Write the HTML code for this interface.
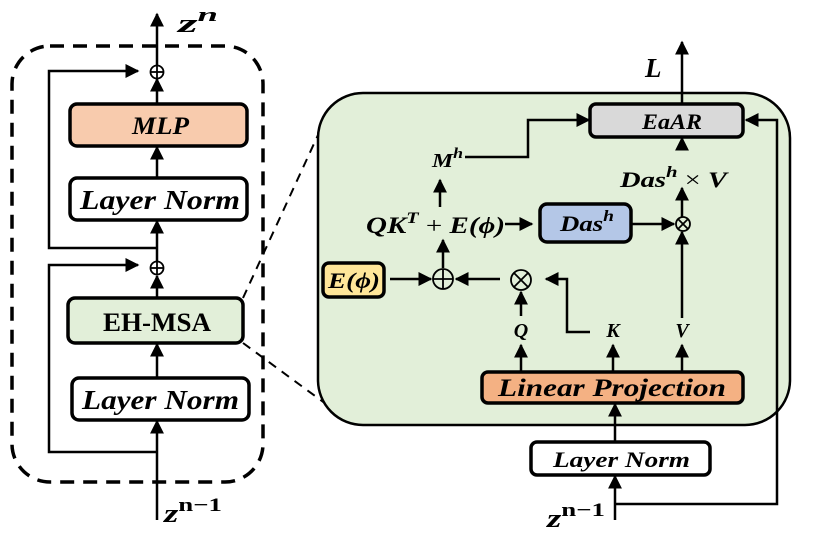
<!DOCTYPE html>
<html><head><meta charset="utf-8"><style>
html,body{margin:0;padding:0;background:#fff;}
svg{display:block;}
text{font-family:"Liberation Serif",serif;font-weight:bold;font-style:italic;fill:#000;}
</style></head><body>
<svg width="814" height="536" viewBox="0 0 814 536" xmlns="http://www.w3.org/2000/svg">
<defs>
<marker id="b" viewBox="0 0 10 10" refX="9" refY="5" markerWidth="14" markerHeight="14" orient="auto" markerUnits="userSpaceOnUse"><path d="M0,0L10,5L0,10z"/></marker>
</defs>
<g stroke="#000" stroke-width="2.5" fill="none">
<rect x="12" y="46" width="251" height="436" rx="38" stroke-width="3.5" stroke-dasharray="14,9"/>
<line x1="243" y1="298" x2="318" y2="135" stroke-width="2" stroke-dasharray="9,7"/>
<line x1="243" y1="343" x2="345" y2="418" stroke-width="2" stroke-dasharray="9,7"/>
</g>
<rect x="318" y="93" width="472" height="332" rx="45" fill="#e2efd9" stroke="#000" stroke-width="2.5"/>
<g stroke="#000" stroke-width="2.5" fill="none">
<line x1="157" y1="520" x2="157" y2="421" marker-end="url(#b)"/>
<line x1="157" y1="378" x2="157" y2="344" marker-end="url(#b)"/>
<line x1="157" y1="298" x2="157" y2="276" marker-end="url(#b)"/>
<line x1="157" y1="262" x2="157" y2="221" marker-end="url(#b)"/>
<line x1="157" y1="178" x2="157" y2="147" marker-end="url(#b)"/>
<line x1="157" y1="104" x2="157" y2="79" marker-end="url(#b)"/>
<line x1="157" y1="66" x2="157" y2="14" marker-end="url(#b)"/>
<polyline points="157,452 49,452 49,265 138,265" marker-end="url(#b)"/>
<polyline points="157,248 49,248 49,71 138,71" marker-end="url(#b)"/>
<circle cx="157" cy="72" r="6.5" fill="#fff" stroke-width="1.8"/>
<line x1="150.5" y1="72" x2="163.5" y2="72" stroke-width="1.8"/><line x1="157" y1="65.5" x2="157" y2="78.5" stroke-width="1.8"/>
<circle cx="157" cy="268" r="6.5" fill="#fff" stroke-width="1.8"/>
<line x1="150.5" y1="268" x2="163.5" y2="268" stroke-width="1.8"/><line x1="157" y1="261.5" x2="157" y2="274.5" stroke-width="1.8"/>
</g>
<g stroke="#000" stroke-width="3.5">
<rect x="70" y="104" width="177" height="42" rx="7" fill="#f8cbad"/>
<rect x="70" y="178" width="177" height="42" rx="7" fill="#fff"/>
<rect x="68" y="298" width="175" height="45" rx="7" fill="#e2efd9"/>
<rect x="72" y="378" width="177" height="42" rx="7" fill="#fff"/>
</g>
<text x="132" y="134" font-size="25" textLength="57" lengthAdjust="spacingAndGlyphs">MLP</text>
<text x="80" y="209" font-size="27" textLength="160" lengthAdjust="spacingAndGlyphs">Layer Norm</text>
<text x="103" y="331" font-size="26" textLength="108" lengthAdjust="spacingAndGlyphs" style="font-style:normal">EH-MSA</text>
<text x="82" y="409" font-size="27" textLength="157" lengthAdjust="spacingAndGlyphs">Layer Norm</text>
<text x="178" y="32" font-size="26" textLength="40" lengthAdjust="spacingAndGlyphs">z<tspan font-size="19" dy="-11">n</tspan></text>
<text x="164" y="522" font-size="26" textLength="58" lengthAdjust="spacingAndGlyphs">z<tspan font-size="19" dy="-11" style="font-style:normal">n−1</tspan></text>

<g stroke="#000" stroke-width="2.5" fill="none">
<line x1="682" y1="104" x2="682" y2="42" marker-end="url(#b)"/>
<line x1="615" y1="520" x2="615" y2="476" marker-end="url(#b)"/>
<line x1="615" y1="442" x2="615" y2="404" marker-end="url(#b)"/>
<polyline points="615,504 777,504 777,120 746,120" marker-end="url(#b)"/>
<polyline points="465,157 528,157 528,120 589,120" marker-end="url(#b)"/>
<line x1="682" y1="150" x2="682" y2="138" marker-end="url(#b)"/>
<line x1="682" y1="217" x2="682" y2="188" marker-end="url(#b)"/>
<line x1="682" y1="318" x2="682" y2="232" marker-end="url(#b)"/>
<line x1="631" y1="224" x2="674" y2="224" marker-end="url(#b)"/>
<line x1="505" y1="224" x2="532" y2="224" marker-end="url(#b)"/>
<line x1="440" y1="207" x2="440" y2="180" marker-end="url(#b)"/>
<line x1="443" y1="268" x2="443" y2="240" marker-end="url(#b)"/>
<line x1="390" y1="279" x2="431" y2="279" marker-end="url(#b)"/>
<line x1="500" y1="279" x2="456" y2="279" marker-end="url(#b)"/>
<polyline points="590,332 567,332 567,279 546,279" marker-end="url(#b)"/>
<line x1="521" y1="316" x2="521" y2="292" marker-end="url(#b)"/>
<line x1="521" y1="372" x2="521" y2="345" marker-end="url(#b)"/>
<line x1="613" y1="372" x2="613" y2="345" marker-end="url(#b)"/>
<line x1="682" y1="372" x2="682" y2="345" marker-end="url(#b)"/>
<circle cx="443" cy="279" r="10" stroke-width="1.8"/>
<line x1="433" y1="279" x2="453" y2="279" stroke-width="1.8"/><line x1="443" y1="269" x2="443" y2="289" stroke-width="1.8"/>
<circle cx="521" cy="280" r="10" stroke-width="1.8"/>
<line x1="514" y1="273" x2="528" y2="287" stroke-width="1.8"/><line x1="528" y1="273" x2="514" y2="287" stroke-width="1.8"/>
<circle cx="683" cy="224" r="7" fill="#e2efd9" stroke-width="1.8"/>
<line x1="678" y1="219" x2="688" y2="229" stroke-width="1.8"/><line x1="688" y1="219" x2="678" y2="229" stroke-width="1.8"/>
</g>
<g stroke="#000" stroke-width="3.5">
<rect x="590" y="104" width="153" height="33" rx="6" fill="#d9d9d9"/>
<rect x="540" y="204" width="91" height="38" rx="7" fill="#b4c7e7"/>
<rect x="323" y="263" width="61" height="34" rx="6" fill="#ffe699"/>
<rect x="482" y="372" width="261" height="31" rx="6" fill="#f4b183"/>
<rect x="531" y="442" width="179" height="33" rx="6" fill="#fff"/>
</g>
<text x="642" y="129" font-size="22" textLength="60" lengthAdjust="spacingAndGlyphs">EaAR</text>
<text x="645" y="77" font-size="27">L</text>
<text x="432" y="167" font-size="20" textLength="31" lengthAdjust="spacingAndGlyphs">M<tspan font-size="15" dy="-9">h</tspan></text>
<text x="620" y="187" font-size="22" textLength="107" lengthAdjust="spacingAndGlyphs">Das<tspan font-size="16" dy="-10">h</tspan><tspan dy="10" style="font-style:normal;font-weight:normal"> × </tspan>V</text>
<text x="366" y="233" font-size="23" textLength="139" lengthAdjust="spacingAndGlyphs">QK<tspan font-size="16" dy="-10">T</tspan><tspan dy="10" style="font-style:normal;font-weight:normal"> + </tspan>E(ϕ)</text>
<text x="560" y="231" font-size="22" textLength="54" lengthAdjust="spacingAndGlyphs">Das<tspan font-size="16" dy="-10">h</tspan></text>
<text x="328" y="288" font-size="22" textLength="52" lengthAdjust="spacingAndGlyphs">E(ϕ)</text>
<text x="521" y="337" font-size="20" text-anchor="middle">Q</text>
<text x="613" y="337" font-size="20" text-anchor="middle">K</text>
<text x="682" y="337" font-size="20" text-anchor="middle">V</text>
<text x="498" y="396" font-size="25" textLength="228" lengthAdjust="spacingAndGlyphs">Linear Projection</text>
<text x="553" y="467" font-size="22" textLength="137" lengthAdjust="spacingAndGlyphs">Layer Norm</text>
<text x="547" y="527" font-size="26" textLength="58" lengthAdjust="spacingAndGlyphs">z<tspan font-size="19" dy="-11" style="font-style:normal">n−1</tspan></text>
</svg>
</body></html>
